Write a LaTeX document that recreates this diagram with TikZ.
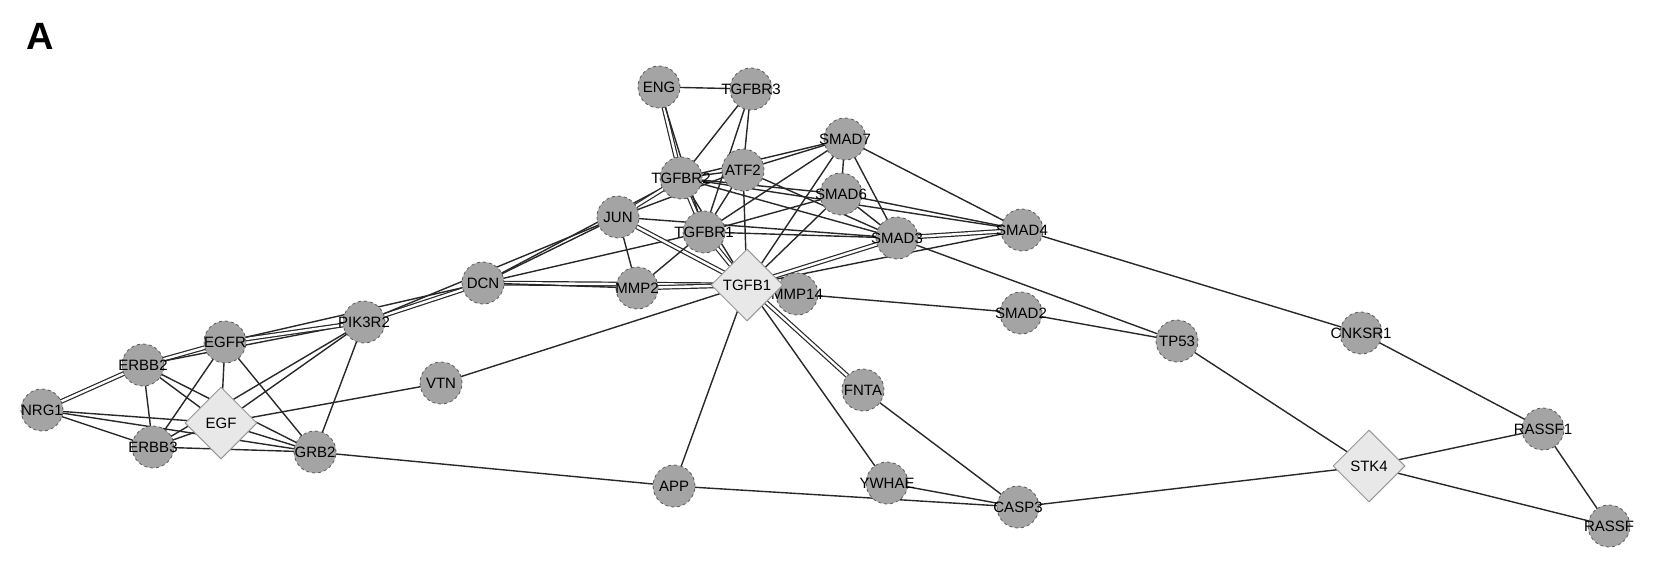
\documentclass[tikz,border=0pt]{standalone}
\usepackage{fontspec}
\setmainfont{Liberation Sans}
\usetikzlibrary{shapes.geometric,backgrounds}
\newcommand\zw[1]{\makebox[0pt]{#1}}
\tikzset{
  gene/.style={circle,fill=nodegray,draw=bordergray,dashed,line width=0.8pt,minimum size=42pt,inner sep=0pt,font=\fontsize{15}{15}\selectfont},
  hub/.style={diamond,fill=hubgray,draw=hubborder,solid,line width=1pt,minimum width=72pt,minimum height=72pt,inner sep=0pt,font=\fontsize{15}{15}\selectfont},
  edge/.style={draw=edgegray,line width=1.4pt},
  dbl/.style={draw=edgegray,line width=1.2pt,double=white,double distance=2.4pt},
}
\definecolor{nodegray}{RGB}{164,164,164}
\definecolor{bordergray}{RGB}{90,90,90}
\definecolor{hubgray}{RGB}{232,232,232}
\definecolor{hubborder}{RGB}{150,150,150}
\definecolor{edgegray}{RGB}{40,40,40}
\begin{document}
\begin{tikzpicture}[x=1pt,y=-1pt]
\useasboundingbox (0,0) rectangle (1654,575);
\node[font=\fontsize{38}{38}\selectfont\bfseries] (lblA) at (40,36) {A};
% nodes
\node[gene] (NRG1) at (42,410) {\zw{NRG1}};
\node[gene] (ERBB2) at (143,365) {\zw{ERBB2}};
\node[gene] (EGFR) at (225,342) {\zw{EGFR}};
\node[hub] (EGF) at (221,423) {\zw{EGF}};
\node[gene] (ERBB3) at (153,447) {\zw{ERBB3}};
\node[gene] (GRB2) at (315,452) {\zw{GRB2}};
\node[gene] (PIK3R2) at (364,322) {\zw{PIK3R2}};
\node[gene] (DCN) at (483,283) {\zw{DCN}};
\node[gene] (VTN) at (441,383) {\zw{VTN}};
\node[gene] (ENG) at (659,87) {\zw{ENG}};
\node[gene] (TGFBR3) at (751,89) {\zw{TGFBR3}};
\node[gene] (ATF2) at (743,170) {\zw{ATF2}};
\node[gene] (TGFBR2) at (681,178) {\zw{TGFBR2}};
\node[gene] (JUN) at (618,217) {\zw{JUN}};
\node[gene] (TGFBR1) at (704,232) {\zw{TGFBR1}};
\node[gene] (SMAD7) at (845,139) {\zw{SMAD7}};
\node[gene] (SMAD6) at (841,194) {\zw{SMAD6}};
\node[gene] (SMAD3) at (897,238) {\zw{SMAD3}};
\node[gene] (SMAD4) at (1022,230) {\zw{SMAD4}};
\node[gene] (MMP2) at (637,288) {\zw{MMP2}};
\node[gene] (MMP14) at (797,294) {\zw{MMP14}};
\node[hub] (TGFB1) at (747,285) {\zw{TGFB1}};
\node[gene] (SMAD2) at (1021,313) {\zw{SMAD2}};
\node[gene] (FNTA) at (863,390) {\zw{FNTA}};
\node[gene] (APP) at (674,486) {\zw{APP}};
\node[gene] (YWHAE) at (887,483) {\zw{YWHAE}};
\node[gene] (CASP3) at (1018,507) {\zw{CASP3}};
\node[gene] (TP53) at (1177,341) {\zw{TP53}};
\node[gene] (CNKSR1) at (1361,333) {\zw{CNKSR1}};
\node[gene] (RASSF1) at (1543,429) {\zw{RASSF1}};
\node[hub] (STK4) at (1369,466) {\zw{STK4}};
\node[gene] (RASSF) at (1609,526) {\zw{RASSF}};
\begin{scope}[on background layer]
% left cluster
\path[dbl] (NRG1.center) -- (ERBB2.center);
\path[edge] (NRG1.center) -- (EGF.center);
\path[edge] (NRG1.center) -- (ERBB3.center);
\path[edge] (NRG1.center) -- (GRB2.center);
\path[dbl] (ERBB2.center) -- (EGFR.center);
\path[edge] (ERBB2.center) -- (ERBB3.center);
\path[edge] (ERBB2.center) -- (EGF.center);
\path[edge] (ERBB2.center) -- (GRB2.center);
\path[edge] (ERBB2.center) -- (PIK3R2.center);
\path[edge] (EGFR.center) -- (ERBB3.center);
\path[edge] (EGFR.center) -- (EGF.center);
\path[edge] (EGFR.center) -- (GRB2.center);
\path[dbl] (EGFR.center) -- (PIK3R2.center);
\path[edge] (EGFR.center) -- (DCN.center);
\path[edge] (ERBB3.center) -- (EGF.center);
\path[edge] (ERBB3.center) -- (GRB2.center);
\path[edge] (ERBB3.center) -- (PIK3R2.center);
\path[edge] (EGF.center) -- (PIK3R2.center);
\path[edge] (EGF.center) -- (GRB2.center);
\path[edge] (EGF.center) -- (VTN.center);
\path[edge] (GRB2.center) -- (PIK3R2.center);
\path[edge] (GRB2.center) -- (APP.center);
\path[dbl] (PIK3R2.center) -- (DCN.center);
\path[edge] (PIK3R2.center) -- (JUN.center);
\path[edge] (DCN.center) -- (JUN.center);
\path[edge] (DCN.center) -- (TGFBR2.center);
\path[edge] (DCN.center) -- (TGFBR1.center);
\path[dbl] (DCN.center) -- (TGFB1.center);
\path[edge] (DCN.center) -- (MMP2.center);
\path[edge] (VTN.center) -- (TGFB1.center);
% top cluster
\path[edge] (ENG.center) -- (TGFBR3.center);
\path[dbl] (ENG.center) -- (TGFBR2.center);
\path[edge] (ENG.center) -- (TGFBR1.center);
\path[edge] (TGFBR3.center) -- (TGFBR2.center);
\path[edge] (TGFBR3.center) -- (TGFBR1.center);
\path[edge] (TGFBR3.center) -- (ATF2.center);
\path[edge] (TGFBR2.center) -- (ATF2.center);
\path[dbl] (TGFBR2.center) -- (TGFBR1.center);
\path[dbl] (TGFBR2.center) -- (JUN.center);
\path[edge] (TGFBR2.center) -- (SMAD3.center);
\path[edge] (TGFBR2.center) -- (SMAD4.center);
\path[edge] (TGFBR2.center) -- (SMAD7.center);
\path[edge] (TGFBR2.center) -- (TGFB1.center);
\path[edge] (ATF2.center) -- (SMAD7.center);
\path[edge] (ATF2.center) -- (TGFB1.center);
\path[edge] (ATF2.center) -- (SMAD3.center);
\path[edge] (ATF2.center) -- (TGFBR1.center);
\path[edge] (ATF2.center) -- (JUN.center);
\path[edge] (SMAD7.center) -- (SMAD6.center);
\path[edge] (SMAD7.center) -- (SMAD3.center);
\path[edge] (SMAD7.center) -- (SMAD4.center);
\path[edge] (SMAD7.center) -- (TGFB1.center);
\path[edge] (SMAD7.center) -- (TGFBR1.center);
\path[edge] (SMAD6.center) -- (SMAD3.center);
\path[edge] (SMAD6.center) -- (SMAD4.center);
\path[edge] (SMAD6.center) -- (TGFB1.center);
\path[edge] (SMAD6.center) -- (TGFBR1.center);
\path[edge] (SMAD6.center) -- (TGFBR2.center);
\path[dbl] (SMAD3.center) -- (SMAD4.center);
\path[dbl] (SMAD3.center) -- (TGFB1.center);
\path[edge] (SMAD3.center) -- (TP53.center);
\path[edge] (SMAD3.center) -- (TGFBR1.center);
\path[edge] (SMAD3.center) -- (JUN.center);
\path[edge] (SMAD4.center) -- (CNKSR1.center);
\path[edge] (SMAD4.center) -- (TGFB1.center);
\path[dbl] (JUN.center) -- (TGFB1.center);
\path[edge] (JUN.center) -- (MMP2.center);
\path[dbl] (TGFBR1.center) -- (TGFB1.center);
\path[edge] (TGFBR1.center) -- (MMP2.center);
\path[dbl] (MMP2.center) -- (TGFB1.center);
\path[edge] (TGFB1.center) -- (MMP14.center);
\path[dbl] (TGFB1.center) -- (FNTA.center);
\path[edge] (TGFB1.center) -- (YWHAE.center);
\path[edge] (TGFB1.center) -- (APP.center);
% right and bottom
\path[edge] (MMP14.center) -- (SMAD2.center);
\path[edge] (SMAD2.center) -- (TP53.center);
\path[edge] (TP53.center) -- (STK4.center);
\path[edge] (CNKSR1.center) -- (RASSF1.center);
\path[edge] (STK4.center) -- (RASSF1.center);
\path[edge] (STK4.center) -- (RASSF.center);
\path[edge] (RASSF1.center) -- (RASSF.center);
\path[edge] (CASP3.center) -- (STK4.center);
\path[edge] (FNTA.center) -- (CASP3.center);
\path[edge] (YWHAE.center) -- (CASP3.center);
\path[edge] (APP.center) -- (CASP3.center);
\end{scope}
\end{tikzpicture}
\end{document}
